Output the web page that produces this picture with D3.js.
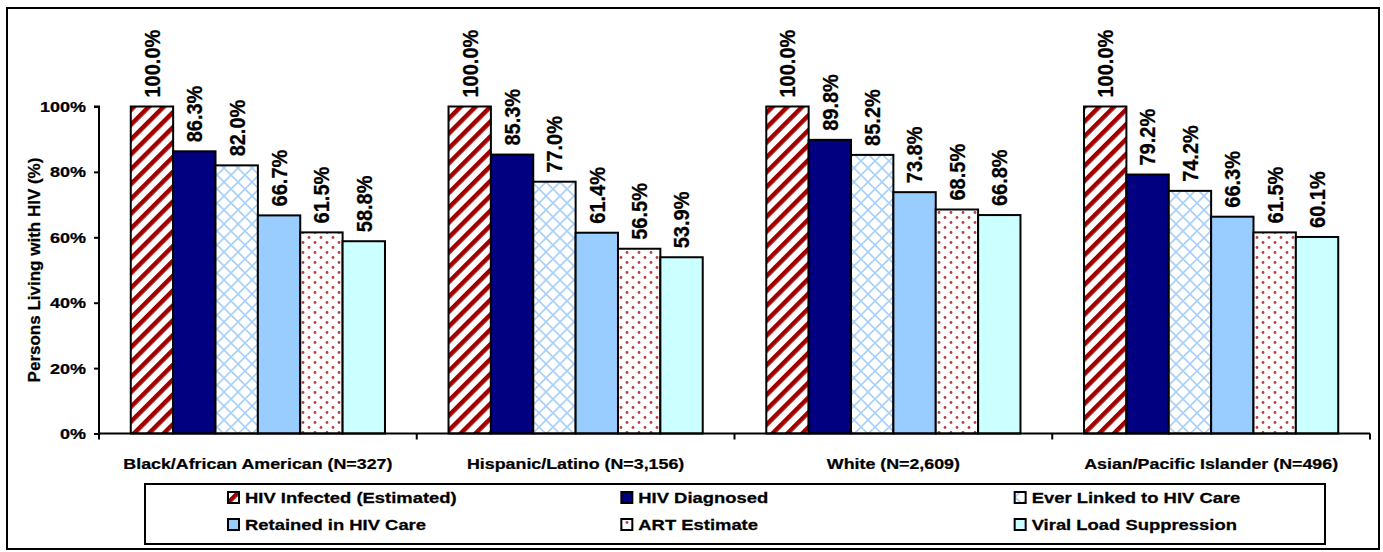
<!DOCTYPE html>
<html>
<head>
<meta charset="utf-8">
<script src="https://cdn.jsdelivr.net/npm/d3@7"></script>
<style>
  html, body { margin: 0; padding: 0; background: #fff; }
  svg { display: block; font-family: "Liberation Sans", Arial, sans-serif; font-weight: bold; }
  svg text { stroke: #000; stroke-width: 0.25px; fill: #000; }
</style>
</head>
<body>
<svg id="chart" width="1383" height="552"></svg>
<script>
// ---- data ----
const categories = ["Black/African American (N=327)", "Hispanic/Latino (N=3,156)", "White (N=2,609)", "Asian/Pacific Islander (N=496)"];
const seriesNames = ["HIV Infected (Estimated)", "HIV Diagnosed", "Ever Linked to HIV Care", "Retained in HIV Care", "ART Estimate", "Viral Load Suppression"];
const infected  = [100.0, 100.0, 100.0, 100.0];
const diagnosed = [86.3, 85.3, 89.8, 79.2];
const linked    = [82.0, 77.0, 85.2, 74.2];
const retained  = [66.7, 61.4, 73.8, 66.3];
const art       = [61.5, 56.5, 68.5, 61.5];
const viral     = [58.8, 53.9, 66.8, 60.1];
const yTicks = [0, 20, 40, 60, 80, 100];

const seriesValues = [infected, diagnosed, linked, retained, art, viral];
const fills = ["url(#pStripe)", "#000080", "url(#pCross)", "#99CCFF", "url(#pDots)", "#CCFFFF"];

const svg = d3.select("#chart");

// ---- patterns ----
const defs = svg.append("defs");
const ps = defs.append("pattern").attr("id", "pStripe").attr("patternUnits", "userSpaceOnUse")
  .attr("width", 10.5).attr("height", 10.5).attr("patternTransform", "rotate(45)");
ps.append("rect").attr("width", 10.5).attr("height", 10.5).attr("fill", "#fff");
ps.append("rect").attr("x", 0).attr("width", 4.5).attr("height", 10.5).attr("fill", "#A00000");

const pc = defs.append("pattern").attr("id", "pCross").attr("patternUnits", "userSpaceOnUse")
  .attr("width", 14).attr("height", 14);
pc.append("rect").attr("width", 14).attr("height", 14).attr("fill", "#fff");
pc.append("path").attr("d", "M-1,-1L15,15M15,-1L-1,15").attr("stroke", "#A8D0F8").attr("stroke-width", 1.6).attr("fill", "none");

const pd = defs.append("pattern").attr("id", "pDots").attr("patternUnits", "userSpaceOnUse")
  .attr("width", 12).attr("height", 10);
pd.append("rect").attr("width", 12).attr("height", 10).attr("fill", "#fff");
pd.append("circle").attr("cx", 3).attr("cy", 2.5).attr("r", 1.4).attr("fill", "#B84040");
pd.append("circle").attr("cx", 9).attr("cy", 7.5).attr("r", 1.4).attr("fill", "#B84040");

// outer border
svg.append("rect").attr("x", 7).attr("y", 8).attr("width", 1372).attr("height", 541)
  .attr("fill", "none").attr("stroke", "#000").attr("stroke-width", 2);

// ---- scales ----
const plotL = 99, plotR = 1370, plotT = 106.5, plotB = 433.5;
const x0 = d3.scaleBand().domain(categories).range([plotL, plotR]).paddingInner(0).paddingOuter(0);
// Excel-like gap width 150%: each group = 6 bars + 1.5 bar widths of gap
const x1 = d3.scaleBand().domain(d3.range(seriesNames.length)).range([0, x0.bandwidth()])
  .paddingInner(0).paddingOuter(0.75);
const y = d3.scaleLinear().domain([0, 100]).range([plotB, plotT]);

// ---- bars ----
const g = svg.append("g");
categories.forEach((c, ci) => {
  seriesValues.forEach((vals, si) => {
    const v = vals[ci];
    const bx = x0(c) + x1(si);
    g.append("rect")
      .attr("x", bx).attr("y", y(v))
      .attr("width", x1.bandwidth()).attr("height", y(0) - y(v))
      .attr("fill", fills[si]).attr("stroke", "#000").attr("stroke-width", 2);
    const cx = bx + x1.bandwidth() / 2;
    g.append("text")
      .attr("transform", `translate(${cx},${y(v) - 9}) scale(1.12,1) rotate(-90)`)
      .attr("dy", "0.35em")
      .attr("font-size", 20).attr("text-anchor", "start")
      .text(v.toFixed(1) + "%");
  });
});

// ---- axes ----
const yAxis = d3.axisLeft(y).tickValues(yTicks).tickSize(5).tickFormat(d => d + "%");
const ya = svg.append("g").attr("transform", `translate(${plotL},0)`).call(yAxis);
ya.select(".domain").attr("stroke-width", 2).attr("d", `M-5,${plotT}H0V${plotB}`);
ya.selectAll(".tick line").attr("stroke-width", 2);
ya.selectAll(".tick text").remove();
yTicks.forEach(t => {
  svg.append("text")
    .attr("transform", `translate(${plotL - 13},${y(t)}) scale(1.2,1)`)
    .attr("dy", "0.36em").attr("text-anchor", "end").attr("font-size", 15)
    .text(t + "%");
});

const xAxis = d3.axisBottom(x0).tickSize(0).tickFormat("");
const xa = svg.append("g").attr("transform", `translate(0,${plotB})`).call(xAxis);
xa.select(".domain").attr("stroke-width", 2).attr("d", `M${plotL},0H${plotR}`);
xa.selectAll(".tick").remove();
// group separator ticks
d3.range(categories.length + 1).forEach(i => {
  const tx = plotL + i * x0.step();
  xa.append("line").attr("x1", tx).attr("x2", tx).attr("y1", 0).attr("y2", 6)
    .attr("stroke", "#000").attr("stroke-width", 2);
});
categories.forEach(c => {
  svg.append("text")
    .attr("transform", `translate(${x0(c) + x0.bandwidth() / 2},${plotB + 35}) scale(1.15,1)`)
    .attr("text-anchor", "middle").attr("font-size", 15.5)
    .text(c);
});

// y title
svg.append("text")
  .attr("transform", `translate(34,${(plotT + plotB) / 2}) rotate(-90)`)
  .attr("text-anchor", "middle").attr("dy", "0.35em").attr("font-size", 17)
  .text("Persons Living with HIV (%)");

// ---- legend ----
const legL = 145, legR = 1325, legT = 484, legB = 544;
svg.append("rect").attr("x", legL).attr("y", legT).attr("width", legR - legL).attr("height", legB - legT)
  .attr("fill", "#fff").attr("stroke", "#000").attr("stroke-width", 2);
const colW = (legR - legL) / 3;
const rowY = [497.5, 524.5];
seriesNames.forEach((name, i) => {
  const col = i % 3, row = Math.floor(i / 3);
  const mx = legL + col * colW + 83;
  svg.append("rect").attr("x", mx).attr("y", rowY[row] - 5.5).attr("width", 11).attr("height", 11)
    .attr("fill", fills[i]).attr("stroke", "#000").attr("stroke-width", 2);
  svg.append("text")
    .attr("transform", `translate(${mx + 17},${rowY[row]}) scale(1.27,1)`)
    .attr("dy", "0.36em").attr("font-size", 14.5)
    .text(name);
});
</script>
</body>
</html>
